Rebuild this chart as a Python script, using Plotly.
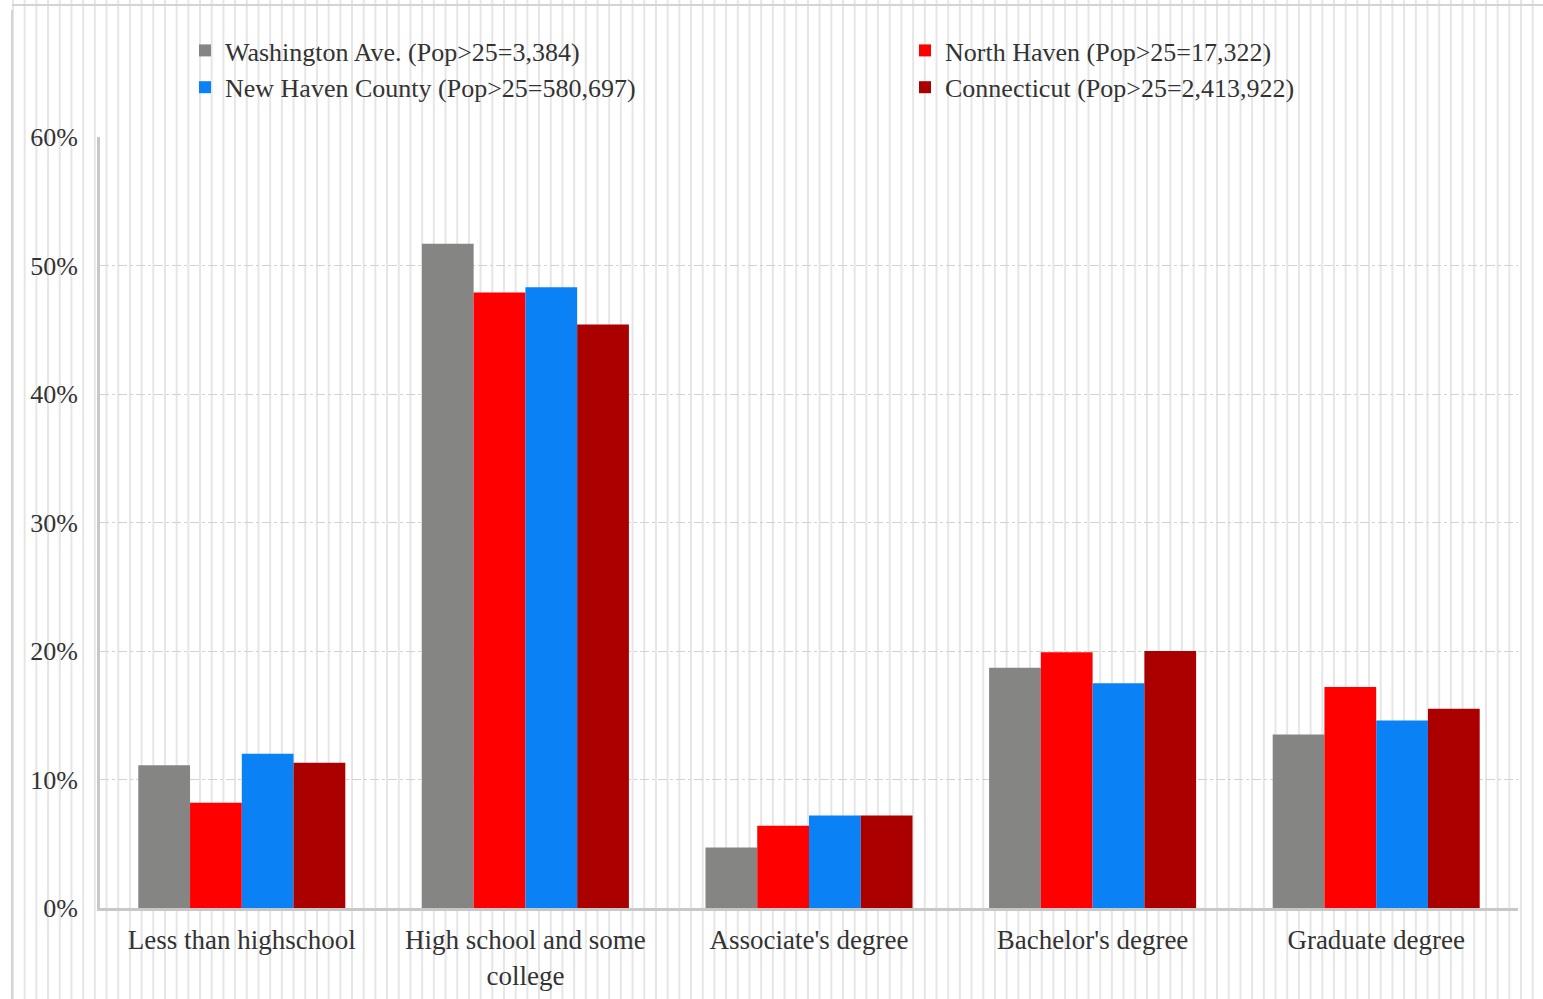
import plotly.graph_objects as go

# Educational attainment, population aged 25+
categories = [
    "Less than highschool",
    "High school and some<br>college",
    "Associate's degree",
    "Bachelor's degree",
    "Graduate degree",
]
series_names = [
    "Washington Ave. (Pop>25=3,384)",
    "North Haven (Pop>25=17,322)",
    "New Haven County (Pop>25=580,697)",
    "Connecticut (Pop>25=2,413,922)",
]
washington_ave = [11.1, 51.7, 4.7, 18.7, 13.5]
north_haven = [8.2, 47.9, 6.4, 19.9, 17.2]
new_haven_county = [12.0, 48.3, 7.2, 17.5, 14.6]
connecticut = [11.3, 45.4, 7.2, 20.0, 15.5]
y_ticks = [0, 10, 20, 30, 40, 50, 60]
y_tick_labels = [f"{v}%" for v in y_ticks]

series_values = [washington_ave, north_haven, new_haven_county, connecticut]
series_colors = ["#858583", "#ff0000", "#0a82f5", "#aa0000"]
# two legend columns: left column and right column
series_legends = ["legend", "legend2", "legend", "legend2"]

W, H = 1543, 999
ML, MR, MT, MB = 100, 25, 137, 91
PW, PH = W - ML - MR, H - MT - MB

fig = go.Figure()
for name, vals, col, lg in zip(series_names, series_values, series_colors, series_legends):
    fig.add_trace(go.Bar(x=categories, y=vals, name=name, legend=lg,
                         marker=dict(color=col, line=dict(width=0))))


def px_to_xpaper(px):
    return (px - ML) / PW


def px_to_ypaper(py):
    return (H - MB - py) / PH


# light vertical stripe texture over the whole canvas
y_lo = px_to_ypaper(H + 5)
y_hi = px_to_ypaper(-5)
path = []
x = 13.0
while x < W + 2:
    xp = px_to_xpaper(x)
    path.append(f"M{xp:.5f},{y_lo:.4f}L{xp:.5f},{y_hi:.4f}")
    x += 11.69
shapes = [dict(type="path", path="".join(path), xref="paper", yref="paper",
               line=dict(color="#e6e6e6", width=2), layer="below")]

# outer frame (top and left edges)
shapes.append(dict(type="line", xref="paper", yref="paper",
                   x0=px_to_xpaper(12), x1=px_to_xpaper(12),
                   y0=px_to_ypaper(10), y1=y_lo,
                   line=dict(color="#d4d4d4", width=2), layer="below"))
shapes.append(dict(type="line", xref="paper", yref="paper",
                   x0=px_to_xpaper(12), x1=px_to_xpaper(W + 5),
                   y0=px_to_ypaper(5), y1=px_to_ypaper(5),
                   line=dict(color="#d4d4d4", width=2), layer="below"))

font_family = "Liberation Serif, Times New Roman, serif"
legend_font = dict(family=font_family, size=26, color="#333333")
tick_font = dict(family=font_family, size=27, color="#333333")


def legend_box(left_px):
    return dict(
        orientation="v",
        x=px_to_xpaper(left_px), xanchor="left",
        y=px_to_ypaper(27), yanchor="top",
        bgcolor="rgba(0,0,0,0)",
        font=legend_font,
        traceorder="normal",
        tracegroupgap=0,
    )


fig.update_layout(
    width=W, height=H,
    margin=dict(l=ML, r=MR, t=MT, b=MB, pad=0, autoexpand=False),
    paper_bgcolor="white",
    plot_bgcolor="rgba(0,0,0,0)",
    barmode="group",
    bargap=0.27,
    bargroupgap=0,
    font=dict(family=font_family, size=26, color="#333333"),
    shapes=shapes,
    legend=legend_box(185),
    legend2=legend_box(905),
    xaxis=dict(
        showgrid=False, automargin=False,
        showline=True, linecolor="#c8c8c8", linewidth=3,
        ticks="", tickfont=tick_font,
        ticklabelstandoff=6,
    ),
    yaxis=dict(
        range=[0, 60], automargin=False,
        tickmode="array", tickvals=y_ticks, ticktext=y_tick_labels,
        showgrid=True, gridcolor="#d2d2d2", gridwidth=1, griddash="dashdot",
        showline=True, linecolor="#c8c8c8", linewidth=3,
        zeroline=False,
        ticks="", tickfont=dict(family=font_family, size=26, color="#333333"),
        ticklabelstandoff=14,
    ),
)

fig.write_html("out.html")
